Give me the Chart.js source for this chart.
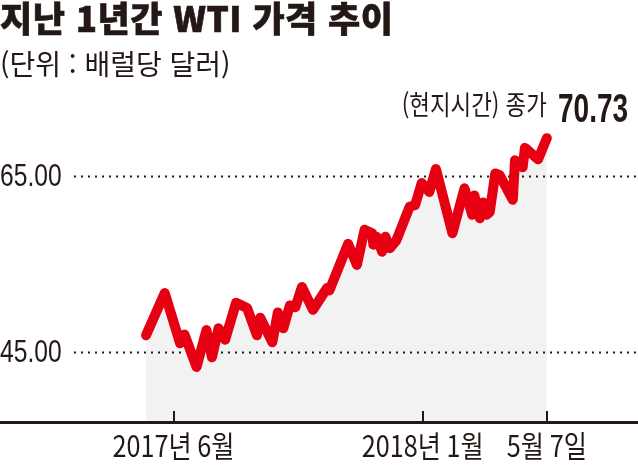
<!DOCTYPE html>
<html lang="ko">
<head>
<meta charset="utf-8">
<script src="https://cdn.jsdelivr.net/npm/chart.js@4/dist/chart.umd.min.js"></script>
<style>
  html, body { margin: 0; padding: 0; background: #fff; }
  #wrap { position: relative; width: 638px; height: 468px; overflow: hidden; }
  #wrap canvas { position: absolute; left: 0; top: 0; }
  .txt { position: absolute; color: #231815; white-space: nowrap; font-family: 'Noto Sans CJK KR', sans-serif; line-height: 1; }
  #title { left: 0; top: -1px; font-size: 35px; font-weight: 900; letter-spacing: 0.5px; -webkit-text-stroke: 0.6px #231815; }
  #unit { left: 0; top: 49px; font-size: 28px; font-weight: 400; }
  #note { right: 91px; top: 90px; font-size: 27px; transform: scaleX(0.83); transform-origin: right center; }
  #close { right: 10px; top: 88px; font-family: 'Liberation Sans', sans-serif; font-size: 40px; font-weight: 700; transform: scaleX(0.7); transform-origin: right center; }
</style>
</head>
<body>
<div id="wrap">
  <canvas id="wti" width="638" height="468"></canvas>
  <div class="txt" id="title">지난 1년간 WTI 가격 추이</div>
  <div class="txt" id="unit">(단위 : 배럴당 달러)</div>
  <div class="txt" id="note">(현지시간) 종가</div>
  <div class="txt" id="close">70.73</div>
</div>
<script>
// WTI weekly closes (x = days since start of range)
const days = [0, 17, 31, 35, 46, 55, 60, 66, 72, 82, 92, 101, 104, 115, 120, 125, 131, 136, 142, 152, 165, 167,
  184, 192, 199, 206, 207, 210, 215, 218, 222, 228, 240, 245, 251, 258, 264, 279, 290, 297, 299, 304, 307, 310, 313,
  318, 322, 334, 336, 343, 345, 357, 365];
const prices = [46.9, 51.7, 46.0, 47.0, 43.3, 47.5, 44.4, 47.7, 46.4, 50.6, 50.0, 46.9, 48.9, 46.1, 49.5, 47.7, 50.3, 50.1, 52.4, 49.8, 52.3, 52.0,
  57.3, 54.9, 58.9, 58.5, 57.2, 58.1, 56.4, 58.1, 56.8, 57.7, 61.5, 61.7, 64.2, 63.2, 65.8, 58.5, 63.6, 60.6, 62.8, 60.2, 62.0, 60.6, 60.9,
  65.3, 65.1, 62.3, 66.8, 66.0, 68.2, 66.9, 69.3];

const xTickDays = [25, 252, 365];
const xTickLabels = ['2017년 6월', '2018년 1월', '5월 7일'];
const yTickValues = [45, 65];
const yTickLabels = ['45.00', '65.00'];

const INK = '#231815';
const RED = '#e60012';

// narrow-looking text: canvas has no condensed font here, so squeeze it
function squeezed(ctx, text, x, y, sx) {
  ctx.save();
  ctx.translate(x, y);
  ctx.scale(sx, 1);
  ctx.fillText(text, 0, 0);
  ctx.restore();
}

const decor = {
  id: 'decor',
  beforeDatasetsDraw(chart) {
    const { ctx, scales: { y } } = chart;
    ctx.save();
    ctx.strokeStyle = INK;
    ctx.lineWidth = 2;
    ctx.setLineDash([2, 5]);
    yTickValues.forEach(v => {
      const py = Math.round(y.getPixelForValue(v)) + 0.5;
      ctx.beginPath();
      ctx.moveTo(74, py);
      ctx.lineTo(chart.width, py);
      ctx.stroke();
    });
    ctx.restore();
  },
  afterDraw(chart) {
    const { ctx, chartArea, scales: { x, y } } = chart;
    ctx.save();
    // axis line + upward ticks
    ctx.fillStyle = INK;
    ctx.fillRect(0, chartArea.bottom - 1, chart.width, 3);
    xTickDays.forEach(d => {
      const px = Math.round(x.getPixelForValue(d));
      ctx.fillRect(px - 1, chartArea.bottom - 11, 2, 11);
    });
    // y labels
    ctx.font = "32px 'Liberation Sans', sans-serif";
    ctx.textAlign = 'left';
    ctx.textBaseline = 'middle';
    yTickValues.forEach((v, i) => squeezed(ctx, yTickLabels[i], 0, y.getPixelForValue(v) + 1, 0.77));
    // x labels
    ctx.font = "30px 'Noto Sans CJK KR', sans-serif";
    ctx.textAlign = 'center';
    xTickDays.forEach((d, i) => squeezed(ctx, xTickLabels[i], x.getPixelForValue(d), chartArea.bottom + 24, 0.84));
    ctx.restore();
  }
};

new Chart(document.getElementById('wti'), {
  type: 'line',
  data: {
    datasets: [{
      data: days.map((d, i) => ({ x: d, y: prices[i] })),
      borderColor: RED,
      borderWidth: 10,
      borderJoinStyle: 'round',
      borderCapStyle: 'round',
      backgroundColor: '#f2f2f2',
      fill: 'start',
      tension: 0,
      pointRadius: 0,
    }],
  },
  options: {
    responsive: false,
    animation: false,
    layout: { padding: { top: 100, bottom: 46, left: 0, right: 0 } },
    plugins: { legend: { display: false }, tooltip: { enabled: false }, filler: { drawTime: 'beforeDatasetsDraw' } },
    scales: {
      x: { type: 'linear', min: -133, max: 448, display: false },
      y: { min: 37.05, max: 73.64, display: false },
    },
  },
  plugins: [decor],
});
</script>
</body>
</html>
